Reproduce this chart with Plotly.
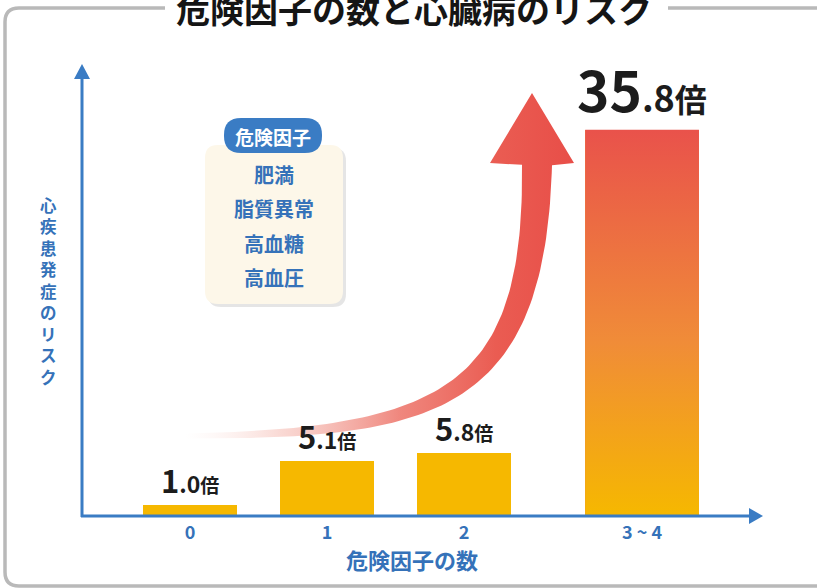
import numpy as np
import plotly.graph_objects as go

# ---------------- data ----------------
categories = ["0", "1", "2", "3 ~ 4"]
risk_values = [1.0, 5.1, 5.8, 35.8]
value_labels = ["1.0", "5.1", "5.8", "35.8"]
unit = "倍"
risk_factors = ["肥満", "脂質異常", "高血糖", "高血圧"]
title_text = "危険因子の数と心臓病のリスク"
x_title = "危険因子の数"
y_title = "心疾患発症のリスク"
box_title = "危険因子"

# ---------------- layout geometry ----------------
W, H = 817, 588
L, PR, T, B = 82, 762, 65, 516          # plot area in pixels
bar_pos = [0, 1, 2, 3.3]
bar_width = [0.69, 0.69, 0.69, 0.83]
X0, X1 = (L - 190) / 137, (PR - 190) / 137
Y0, Y1 = 0, 41.8

FONT = "Noto Sans CJK JP"
BLUE = "#3a7cc4"
TXT_BLUE = "#3572b9"


def to_paper(px, py):
    return (px - L) / (PR - L), (B - py) / (B - T)


def to_data(px, py):
    return (X0 + (px - L) / (PR - L) * (X1 - X0),
            Y0 + (B - py) / (B - T) * (Y1 - Y0))


def P(px, py):
    x, y = to_paper(px, py)
    return f"{x:.5f},{y:.5f}"


def rrect(x0, y0, x1, y1, r):
    return (f"M {P(x0 + r, y0)} L {P(x1 - r, y0)} Q {P(x1, y0)} {P(x1, y0 + r)} "
            f"L {P(x1, y1 - r)} Q {P(x1, y1)} {P(x1 - r, y1)} L {P(x0 + r, y1)} "
            f"Q {P(x0, y1)} {P(x0, y1 - r)} L {P(x0, y0 + r)} Q {P(x0, y0)} {P(x0 + r, y0)} Z")


fig = go.Figure()

# ---------------- curved arrow (decoration) ----------------
CP = np.array([[185, 436], [440, 434], [535, 400], [537, 165]], float)
t = np.linspace(0, 1, 90)
pts = (((1 - t) ** 3)[:, None] * CP[0] + (3 * (1 - t) ** 2 * t)[:, None] * CP[1]
       + (3 * (1 - t) * t ** 2)[:, None] * CP[2] + (t ** 3)[:, None] * CP[3])
der = ((3 * (1 - t) ** 2)[:, None] * (CP[1] - CP[0]) + (6 * (1 - t) * t)[:, None] * (CP[2] - CP[1])
       + (3 * t ** 2)[:, None] * (CP[3] - CP[2]))
tan = der / np.linalg.norm(der, axis=1)[:, None]
nrm = np.stack([-tan[:, 1], tan[:, 0]], axis=1)
wid = 5 + 25 * t ** 1.1
sideA = pts + nrm * (wid / 2)[:, None]
sideB = pts - nrm * (wid / 2)[:, None]
poly = list(sideB) + [(490, 163), (532, 93), (574, 163)] + list(sideA[::-1])
ax_d = [to_data(p[0], p[1]) for p in poly]
fig.add_trace(go.Scatter(
    x=[p[0] for p in ax_d], y=[p[1] for p in ax_d],
    mode="lines", line=dict(width=0), fill="toself",
    fillgradient=dict(type="horizontal", colorscale=[
        [0, "rgba(250,225,220,0)"], [0.25, "rgba(245,185,176,0.55)"],
        [0.55, "rgba(238,125,115,0.92)"], [0.8, "rgb(234,92,82)"], [1, "rgb(232,78,72)"]]),
    hoverinfo="skip", showlegend=False))

# ---------------- bars ----------------
bar_colors = ["#f6b800"] * (len(risk_values) - 1) + ["#ef8c3a"]
fig.add_trace(go.Bar(
    x=bar_pos, y=risk_values, width=bar_width,
    marker=dict(color=bar_colors, line=dict(width=0)),
    hovertext=[f"{c}: {v}{unit}" for c, v in zip(categories, risk_values)],
    hoverinfo="text", showlegend=False))

# gradient overlay on the tallest bar
imax = int(np.argmax(risk_values))
p, w, v = bar_pos[imax], bar_width[imax], risk_values[imax]
fig.add_trace(go.Scatter(
    x=[p - w / 2, p + w / 2, p + w / 2, p - w / 2, p - w / 2],
    y=[0, 0, v, v, 0], mode="lines", line=dict(width=0), fill="toself",
    fillgradient=dict(type="vertical", colorscale=[
        [0, "#f6b800"], [0.45, "#f08c38"], [1, "#e9524b"]]),
    hoverinfo="skip", showlegend=False))

# ---------------- value labels ----------------
annotations = []
for i, (lab, val) in enumerate(zip(value_labels, risk_values)):
    ip, dp = lab.split(".")
    a, b, c = (55, 36, 32) if i == imax else (31, 23, 19)
    txt = (f"<span style='font-size:{a}px'>{ip}</span>"
           f"<span style='font-size:{b}px'>.{dp}</span>"
           f"<span style='font-size:{c}px'>{unit}</span>")
    annotations.append(dict(
        x=bar_pos[i], y=val, xref="x", yref="y", text=txt, showarrow=False,
        xanchor="center", yanchor="bottom", yshift=0 if i == imax else 1,
        font=dict(family=FONT, size=a, color="#1c1c1c", weight=700)))

# title
tx, ty = to_paper(414, 9)
annotations.append(dict(x=tx, y=ty, xref="paper", yref="paper", text=title_text,
                        showarrow=False, xanchor="center", yanchor="middle",
                        font=dict(family=FONT, size=34, color="#151515", weight=700)))
# y title (vertical stacked)
yx, yy = to_paper(48, 291)
annotations.append(dict(x=yx, y=yy, xref="paper", yref="paper", text="<br>".join(y_title),
                        showarrow=False, xanchor="center", yanchor="middle",
                        font=dict(family=FONT, size=16.5, color=TXT_BLUE, weight=700)))
# x title
xx, xy = to_paper(412, 559)
annotations.append(dict(x=xx, y=xy, xref="paper", yref="paper", text=x_title,
                        showarrow=False, xanchor="center", yanchor="middle",
                        font=dict(family=FONT, size=22, color=TXT_BLUE, weight=700)))
# info box texts
bx, by = to_paper(273, 136)
annotations.append(dict(x=bx, y=by, xref="paper", yref="paper", text=box_title,
                        showarrow=False, xanchor="center", yanchor="middle",
                        font=dict(family=FONT, size=19, color="white", weight=700)))
for k, rf in enumerate(risk_factors):
    fx, fy = to_paper(274, 174 + k * 34.5)
    annotations.append(dict(x=fx, y=fy, xref="paper", yref="paper", text=rf,
                            showarrow=False, xanchor="center", yanchor="middle",
                            font=dict(family=FONT, size=20, color=TXT_BLUE, weight=700)))

# ---------------- shapes ----------------
shapes = []
GRAY = "#b9b9b9"
frame = (f"M {P(165, 8)} L {P(19, 8)} Q {P(5, 8)} {P(5, 22)} L {P(5, 572)} "
         f"Q {P(5, 586)} {P(19, 586)} L {P(840, 586)} M {P(668, 8)} L {P(840, 8)}")
shapes.append(dict(type="path", xref="paper", yref="paper", path=frame,
                   line=dict(color=GRAY, width=3.5)))
# axes with arrow heads
shapes.append(dict(type="path", xref="paper", yref="paper",
                   path=f"M {P(82, 517)} L {P(82, 76)}", line=dict(color=BLUE, width=3)))
shapes.append(dict(type="path", xref="paper", yref="paper",
                   path=f"M {P(74, 79)} L {P(90, 79)} L {P(82, 64)} Z",
                   fillcolor=BLUE, line=dict(width=0)))
shapes.append(dict(type="path", xref="paper", yref="paper",
                   path=f"M {P(81, 516)} L {P(752, 516)}", line=dict(color=BLUE, width=3)))
shapes.append(dict(type="path", xref="paper", yref="paper",
                   path=f"M {P(749, 508)} L {P(749, 524)} L {P(763, 516)} Z",
                   fillcolor=BLUE, line=dict(width=0)))
# info box
shapes.append(dict(type="path", xref="paper", yref="paper", path=rrect(208, 148, 346, 307, 13),
                   fillcolor="rgba(0,0,0,0.10)", line=dict(width=0)))
shapes.append(dict(type="path", xref="paper", yref="paper", path=rrect(205, 145, 343, 304, 13),
                   fillcolor="#fdf7e9", line=dict(width=0)))
shapes.append(dict(type="path", xref="paper", yref="paper", path=rrect(224, 118, 322, 153, 17),
                   fillcolor=BLUE, line=dict(width=0)))

fig.update_layout(
    width=W, height=H,
    margin=dict(l=L, r=W - PR, t=T, b=H - B, pad=0),
    paper_bgcolor="white", plot_bgcolor="white",
    showlegend=False, bargap=0,
    xaxis=dict(range=[X0, X1], tickvals=bar_pos, ticktext=categories,
               tickfont=dict(family=FONT, size=18, color=TXT_BLUE, weight=700),
               ticks="outside", ticklen=0, tickcolor="rgba(0,0,0,0)",
               showgrid=False, zeroline=False, showline=False, fixedrange=True),
    yaxis=dict(range=[Y0, Y1], showticklabels=False, showgrid=False,
               zeroline=False, showline=False, fixedrange=True),
    annotations=annotations, shapes=shapes,
)

fig.write_html("out.html", config={"displayModeBar": False},
               post_script="document.body.style.margin='0px';")
